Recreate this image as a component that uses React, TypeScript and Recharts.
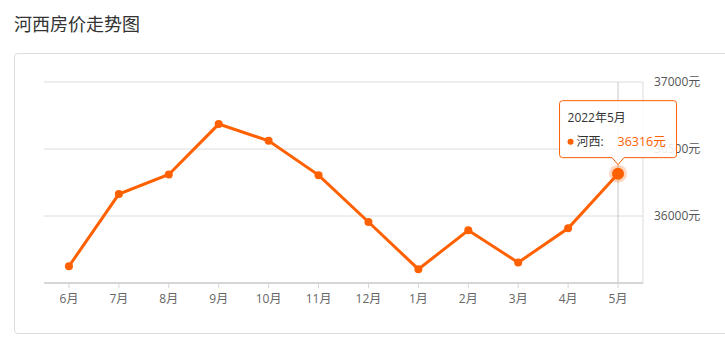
import React from "react"
import { LineChart, Line, XAxis, YAxis, CartesianGrid, ReferenceLine, ReferenceDot } from "recharts"

const months = ["6月", "7月", "8月", "9月", "10月", "11月", "12月", "1月", "2月", "3月", "4月", "5月"]
const prices = [35625, 36164, 36310, 36686, 36561, 36305, 35955, 35603, 35893, 35653, 35908, 36316]
const yTicks = [36000, 36500, 37000]
const yDomain = [35500, 37000]
const seriesName = "河西"
const activeIndex = 11
const activeLabel = "2022年5月"

const data = months.map((m, i) => ({ month: m, price: prices[i] }))

const ORANGE = "#ff6000"
const FONT = "'Open Sans', 'Noto Sans CJK SC', sans-serif"

function PriceDot(props: any) {
  const { cx, cy, index } = props
  if (cx == null || cy == null) return null
  return <circle key={index} cx={cx} cy={cy} r={4} fill={ORANGE} />
}

// highlighted point with its tooltip box above it
function TooltipMark(props: any) {
  const { cx, cy } = props
  if (cx == null || cy == null) return null
  const value = prices[activeIndex]
  const w = 117
  const h = 57
  const left = cx - w / 2
  const bottom = cy - 16
  const top = bottom - h
  const r = 3
  const box = `M${left + r},${top} H${left + w - r} Q${left + w},${top} ${left + w},${top + r} V${bottom - r} Q${left + w},${bottom} ${left + w - r},${bottom} H${cx + 6} L${cx},${bottom + 7} L${cx - 6},${bottom} H${left + r} Q${left},${bottom} ${left},${bottom - r} V${top + r} Q${left},${top} ${left + r},${top} Z`
  return (
    <g>
      <circle cx={cx} cy={cy} r={9} fill={ORANGE} fillOpacity={0.25} />
      <circle cx={cx} cy={cy} r={6} fill={ORANGE} />
      <path d={box} fill="#fff" fillOpacity={0.88} stroke={ORANGE} strokeWidth={1} />
      <text x={left + 8} y={top + 21} fontSize={12} fill="#333" fontFamily={FONT}>
        {activeLabel}
      </text>
      <circle cx={left + 11} cy={top + 41} r={3} fill={ORANGE} />
      <text x={left + 17} y={top + 45} fontSize={12} fill="#333" fontFamily={FONT}>
        {seriesName}:
      </text>
      <text x={left + 58} y={top + 45} fontSize={12.5} fill={ORANGE} fontFamily={FONT}>
        {value}元
      </text>
    </g>
  )
}

export default function App() {
  return (
    <div style={{ position: "absolute", left: 0, top: 0, width: 725, height: 350, overflow: "hidden", background: "#fff", fontFamily: FONT }}>
      <div style={{ position: "absolute", left: 14, top: 10, fontSize: 18, lineHeight: "26px", color: "#333", fontFamily: "'Noto Sans CJK SC', sans-serif" }}>
        河西房价走势图
      </div>
      <div style={{ position: "absolute", left: 14, top: 53, width: 730, height: 279, border: "1px solid #ddd", borderRadius: 4 }}>
        <LineChart
          width={711}
          height={280}
          data={data}
          margin={{ top: 29, right: 0, bottom: 20, left: 30 }}
          style={{ position: "absolute", left: -1, top: -1 }}
        >
          <CartesianGrid vertical={false} stroke="#dcdcdc" />
          <XAxis
            dataKey="month"
            scale="band"
            height={30}
            axisLine={{ stroke: "#d6d6d6", strokeWidth: 2 }}
            tickLine={{ stroke: "#d6d6d6" }}
            tickSize={5}
            tickMargin={6}
            tick={{ fill: "#666", fontSize: 12, fontFamily: FONT }}
            interval={0}
          />
          <YAxis
            orientation="right"
            width={82}
            domain={yDomain}
            ticks={yTicks}
            tickLine={false}
            axisLine={{ stroke: "#ddd" }}
            tickMargin={5}
            tick={{ fill: "#555", fontSize: 12, fontFamily: FONT }}
            tickFormatter={(v) => `${v}元`}
          />
          <ReferenceLine x={months[activeIndex]} stroke="#c8c8c8" />
          <Line
            type="linear"
            dataKey="price"
            name={seriesName}
            stroke={ORANGE}
            strokeWidth={3}
            dot={PriceDot}
            activeDot={false}
            isAnimationActive={false}
          />
          <ReferenceDot
            x={months[activeIndex]}
            y={prices[activeIndex]}
            shape={TooltipMark}
            ifOverflow="visible"
            zIndex={3000}
          />
        </LineChart>
      </div>
    </div>
  )
}
